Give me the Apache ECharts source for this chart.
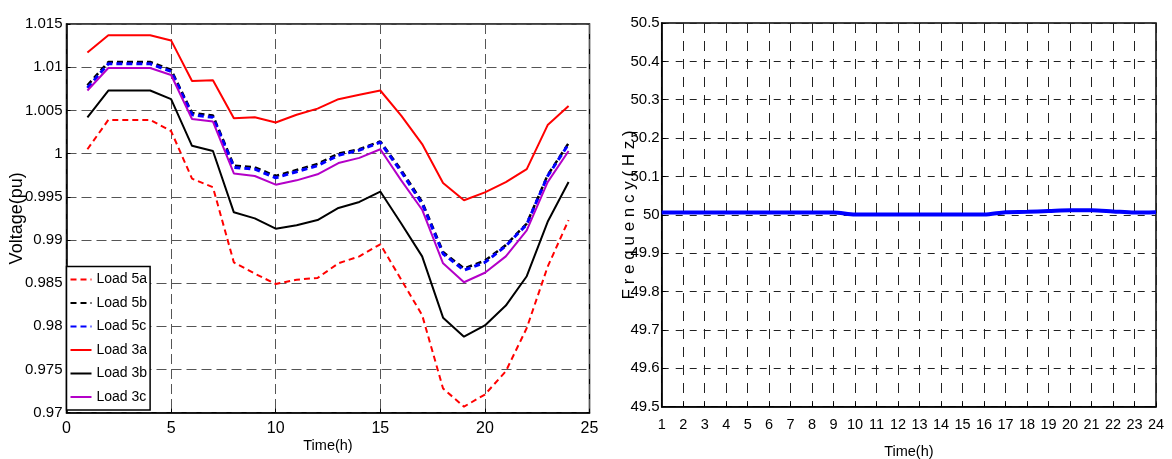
<!DOCTYPE html>
<html>
<head>
<meta charset="utf-8">
<script src="https://cdn.jsdelivr.net/npm/echarts@6/dist/echarts.min.js"></script>
<style>
html,body{margin:0;padding:0;background:#fff;}
#chart{width:1172px;height:459px;}
</style>
</head>
<body>
<div id="chart"></div>
<script>
const hours = [1,2,3,4,5,6,7,8,9,10,11,12,13,14,15,16,17,18,19,20,21,22,23,24];
const load5a = [1.0005,1.0039,1.0039,1.0039,1.0026,0.9971,0.9961,0.9874,0.9861,0.9849,0.9854,0.9856,0.9873,0.9881,0.9895,0.9854,0.9813,0.9728,0.9707,0.9721,0.9748,0.9798,0.9869,0.9923];
const load5b = [1.0079,1.0106,1.0106,1.0106,1.0097,1.0047,1.0044,0.9986,0.9984,0.9974,0.9981,0.9988,1.0000,1.0005,1.0014,0.9981,0.9944,0.9886,0.9867,0.9876,0.9894,0.9919,0.9975,1.0012];
const load5c = [1.0076,1.0104,1.0104,1.0104,1.0095,1.0045,1.0042,0.9984,0.9982,0.9972,0.9979,0.9986,0.9998,1.0004,1.0013,0.9979,0.9942,0.9884,0.9865,0.9874,0.9893,0.9918,0.9974,1.0011];
const load3a = [1.0117,1.0137,1.0137,1.0137,1.0131,1.0084,1.0085,1.0041,1.0042,1.0036,1.0045,1.0052,1.0063,1.0068,1.0073,1.0044,1.0011,0.9966,0.9946,0.9955,0.9967,0.9982,1.0033,1.0055];
const load3b = [1.0042,1.0073,1.0073,1.0073,1.0063,1.0009,1.0003,0.9932,0.9925,0.9913,0.9917,0.9923,0.9937,0.9944,0.9956,0.9919,0.9881,0.9810,0.9788,0.9801,0.9824,0.9858,0.9921,0.9967];
const load3c = [1.0073,1.0099,1.0099,1.0099,1.0091,1.0040,1.0037,0.9977,0.9974,0.9964,0.9969,0.9976,0.9989,0.9995,1.0005,0.9969,0.9935,0.9873,0.9851,0.9862,0.9881,0.9911,0.9967,1.0003];
const frequency = [50.006,50.006,50.006,50.006,50.006,50.006,50.006,50.006,50.006,50.001,50.001,50.001,50.001,50.001,50.001,50.001,50.007,50.008,50.010,50.012,50.012,50.009,50.006,50.007];
const seriesNames = ['Load 5a','Load 5b','Load 5c','Load 3a','Load 3b','Load 3c'];

const FONT = '"Liberation Sans", Arial, Helvetica, sans-serif';
const pair = arr => hours.map((h,i)=>[h,arr[i]]);

const chart = echarts.init(document.getElementById('chart'), null, {renderer:'canvas'});
const mk = (name, data, color, type, width) => ({
  name, type:'line', xAxisIndex:0, yAxisIndex:0, data: pair(data),
  symbol:'none', smooth:false,
  lineStyle:{color, type, width}, itemStyle:{color}
});
chart.setOption({
  animation:false,
  backgroundColor:'#fff',
  grid:[
    {left:66.5, right:582.5, top:24, bottom:46.3, show:true, borderColor:'#000', borderWidth:1.5, backgroundColor:'transparent', containLabel:false, outerBoundsMode:'none'},
    {left:661.7, right:16, top:23, bottom:52.3, show:true, borderColor:'#000', borderWidth:1.5, backgroundColor:'transparent', containLabel:false, outerBoundsMode:'none'}
  ],
  legend:{
    data:seriesNames, orient:'vertical', left:66.5, top:266.5,
    padding:[6,3,6,3], itemGap:9.5, itemWidth:21, itemHeight:14,
    backgroundColor:'#fff', borderColor:'#000', borderWidth:1.5,
    itemStyle:{opacity:0},
    textStyle:{fontFamily:FONT, fontSize:14, color:'#000', lineHeight:14}
  },
  xAxis:[
    {gridIndex:0, type:'value', min:0, max:25, interval:5,
     axisLine:{show:true, onZero:false, lineStyle:{color:'#000', width:1.5}},
     axisTick:{show:true, inside:true, length:4, lineStyle:{color:'#000'}},
     axisLabel:{fontFamily:FONT, fontSize:16, color:'#000', margin:8},
     splitLine:{show:true, lineStyle:{color:'#555', type:[10,5], width:1}},
     name:'Time(h)', nameLocation:'middle', nameGap:26, nameMoveOverlap:false,
     nameTextStyle:{fontFamily:FONT, fontSize:14.5, color:'#000'}},
    {gridIndex:1, type:'value', min:1, max:24, interval:1,
     axisLine:{show:true, onZero:false, lineStyle:{color:'#000', width:1.5}},
     axisTick:{show:true, inside:true, length:4, lineStyle:{color:'#000'}},
     axisLabel:{fontFamily:FONT, fontSize:14.5, color:'#000', margin:11},
     splitLine:{show:true, lineStyle:{color:'#222', type:[10,8], width:1}},
     name:'Time(h)', nameLocation:'middle', nameGap:38, nameMoveOverlap:false,
     nameTextStyle:{fontFamily:FONT, fontSize:14.5, color:'#000'}}
  ],
  yAxis:[
    {gridIndex:0, type:'value', min:0.97, max:1.015, interval:0.005,
     axisLine:{show:true, onZero:false, lineStyle:{color:'#000', width:1.5}},
     axisTick:{show:true, inside:true, length:4, lineStyle:{color:'#000'}},
     axisLabel:{fontFamily:FONT, fontSize:15, color:'#000', margin:4},
     splitLine:{show:true, lineStyle:{color:'#555', type:[10,5], width:1}},
     name:'Voltage(pu)', nameLocation:'middle', nameGap:40, nameRotate:90, nameMoveOverlap:false,
     nameTextStyle:{fontFamily:FONT, fontSize:18, color:'#000'}},
    {gridIndex:1, type:'value', min:49.5, max:50.5, interval:0.1,
     axisLine:{show:true, onZero:false, lineStyle:{color:'#000', width:1.5}},
     axisTick:{show:true, inside:true, length:4, lineStyle:{color:'#000'}},
     axisLabel:{fontFamily:FONT, fontSize:15, color:'#000', margin:2,
       formatter: v => String(Math.round(v*10)/10)},
     splitLine:{show:true, lineStyle:{color:'#222', type:[7,7], width:1}},
     name:'F r e q u e n c y ( H z )', nameLocation:'middle', nameGap:24, nameRotate:90, nameMoveOverlap:false,
     nameTextStyle:{fontFamily:FONT, fontSize:17, color:'#000'}}
  ],
  series:[
    mk('Load 5a', load5a, '#ff0000', [6,4], 2),
    mk('Load 5b', load5b, '#000000', [6,4], 2.5),
    mk('Load 5c', load5c, '#0000ff', [6,4], 3),
    mk('Load 3a', load3a, '#ff0000', 'solid', 2),
    mk('Load 3b', load3b, '#000000', 'solid', 2),
    mk('Load 3c', load3c, '#b400c8', 'solid', 2),
    {name:'Frequency', type:'line', xAxisIndex:1, yAxisIndex:1, data:pair(frequency),
     symbol:'none', smooth:0.3, lineStyle:{color:'#0000ff', width:4}, itemStyle:{color:'#0000ff'}}
  ]
});
</script>
</body>
</html>
